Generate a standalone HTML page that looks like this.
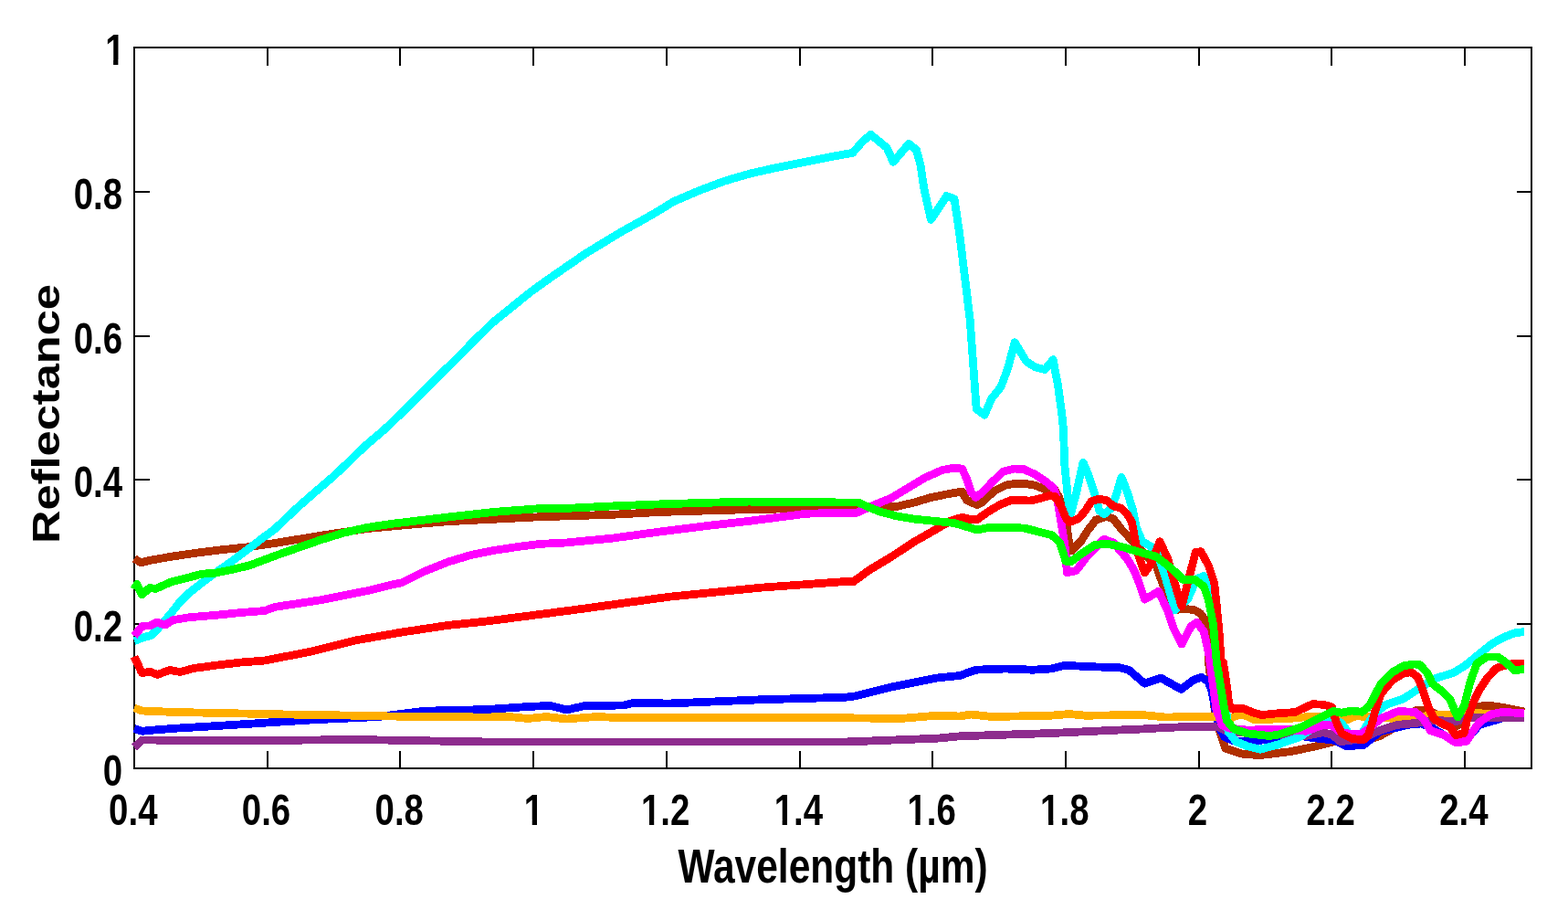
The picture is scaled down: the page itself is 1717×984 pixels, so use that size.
<!DOCTYPE html>
<html><head><meta charset="utf-8"><title>Reflectance spectra</title>
<style>html,body{margin:0;padding:0;background:#fff;}svg{display:block;}</style>
</head><body>
<svg width="1717" height="984" viewBox="0 0 1717 984">
<rect width="1717" height="984" fill="#fff"/>
<path d="M147.0 841.0V821.5M147.0 52.0V71.5M293.0 841.0V821.5M293.0 52.0V71.5M438.0 841.0V821.5M438.0 52.0V71.5M584.0 841.0V821.5M584.0 52.0V71.5M730.0 841.0V821.5M730.0 52.0V71.5M876.0 841.0V821.5M876.0 52.0V71.5M1021.0 841.0V821.5M1021.0 52.0V71.5M1167.0 841.0V821.5M1167.0 52.0V71.5M1313.0 841.0V821.5M1313.0 52.0V71.5M1458.0 841.0V821.5M1458.0 52.0V71.5M1604.0 841.0V821.5M1604.0 52.0V71.5M147.0 841.0H163.5M1677.0 841.0H1660.5M147.0 683.0H163.5M1677.0 683.0H1660.5M147.0 525.0H163.5M1677.0 525.0H1660.5M147.0 368.0H163.5M1677.0 368.0H1660.5M147.0 210.0H163.5M1677.0 210.0H1660.5M147.0 52.0H163.5M1677.0 52.0H1660.5" stroke="#000" stroke-width="2" fill="none" shape-rendering="crispEdges"/>
<rect x="147.0" y="52.0" width="1530.0" height="789.0" fill="none" stroke="#000" stroke-width="2" shape-rendering="crispEdges"/>
<g fill="none" stroke-width="8.8" stroke-linejoin="round" stroke-linecap="butt" shape-rendering="crispEdges">
<polyline stroke="#B03000" points="147.0,611.5 154.3,615.8 163.9,613.4 187.8,609.2 216.4,605.0 245.1,601.5 273.7,598.5 300.8,594.5 351.7,586.2 402.5,578.5 452.7,573.9 490.8,570.7 541.7,568.2 592.5,565.7 620.0,564.9 670.8,563.3 721.7,560.5 772.5,559.0 820.0,557.7 926.0,555.6 938.5,556.0 963.5,555.0 982.2,554.4 1001.0,550.0 1019.8,544.4 1038.5,540.6 1053.5,538.1 1058.5,547.5 1069.8,552.5 1076.0,549.4 1088.5,537.5 1101.0,531.2 1111.0,529.4 1122.0,529.4 1132.7,531.0 1145.4,536.1 1154.3,534.8 1159.4,543.7 1165.7,558.9 1168.3,578.0 1170.8,595.0 1173.4,602.9 1183.5,592.7 1191.2,580.5 1200.0,569.1 1211.5,565.3 1219.1,567.8 1228.0,579.3 1238.2,590.2 1252.0,605.0 1266.1,619.4 1272.5,637.2 1278.8,653.7 1285.2,667.7 1297.9,666.4 1308.1,667.7 1314.4,671.5 1320.0,679.1 1322.1,689.0 1323.4,725.0 1326.0,745.0 1330.0,775.0 1335.4,799.9 1341.8,819.0 1360.8,825.3 1379.9,826.6 1411.7,822.8 1437.1,817.7 1462.5,811.3 1475.2,814.5 1490.0,812.0 1510.0,806.0 1530.0,795.0 1551.2,777.0 1565.0,778.0 1580.0,785.0 1594.0,795.0 1605.0,790.0 1619.8,773.0 1632.5,772.4 1645.2,774.3 1669.1,779.0"/>
<polyline stroke="#0000FF" points="147.0,797.5 155.8,800.3 169.0,799.0 195.4,797.0 235.0,794.7 340.0,788.0 415.0,784.5 465.0,778.2 515.0,777.0 533.0,776.5 583.0,773.2 603.0,772.5 620.5,777.0 640.5,772.5 683.0,772.0 693.0,769.5 733.0,770.0 833.0,765.8 926.0,763.2 936.0,762.0 976.0,752.0 1026.0,742.0 1051.0,739.5 1068.5,733.2 1101.0,732.0 1131.0,733.2 1151.0,732.0 1166.0,728.2 1188.5,729.5 1226.0,730.8 1236.0,733.2 1253.5,748.2 1271.0,742.0 1293.5,754.5 1306.5,744.5 1315.4,741.3 1323.0,745.7 1326.8,755.9 1330.7,776.2 1334.5,795.3 1340.8,806.7 1353.5,811.8 1373.5,811.3 1399.0,807.5 1424.4,802.4 1430.0,806.6 1461.5,810.4 1474.1,816.7 1493.0,815.5 1502.5,807.9 1511.9,800.3 1543.5,793.0 1556.2,792.0 1569.0,797.0 1581.7,805.0 1594.4,812.0 1605.8,810.0 1619.8,793.4 1645.2,786.0 1669.1,785.0"/>
<polyline stroke="#FFAE00" points="147.0,775.0 155.8,778.0 192.0,779.5 315.0,782.0 390.0,783.2 452.5,784.5 533.0,785.0 558.0,784.5 578.0,786.5 598.0,784.5 620.5,787.0 653.0,784.5 683.0,785.8 783.0,785.8 926.0,785.8 986.0,786.5 1026.0,783.2 1051.0,784.0 1063.5,782.0 1086.0,784.5 1151.0,783.2 1171.0,781.5 1188.5,783.2 1251.0,782.5 1276.0,785.0 1310.0,784.6 1332.9,784.6 1348.1,785.9 1357.0,782.1 1364.6,783.4 1373.5,787.8 1411.7,786.5 1437.1,784.0 1456.1,785.9 1475.2,787.8 1485.3,783.4 1494.2,784.6 1510.0,784.6 1530.0,787.0 1550.0,786.0 1570.0,782.0 1590.0,782.0 1619.8,780.7 1669.1,784.0"/>
<polyline stroke="#8E2C8E" points="147.0,818.0 155.8,810.0 265.0,810.8 390.0,809.5 533.0,812.0 926.0,812.0 1026.0,808.2 1051.0,805.8 1151.0,802.5 1226.0,799.0 1251.0,798.0 1276.0,796.5 1300.0,795.5 1322.7,795.4 1335.4,796.1 1343.4,800.4 1360.0,802.0 1400.0,804.0 1430.0,805.4 1448.9,801.6 1458.4,804.1 1467.8,811.7 1490.0,809.0 1511.9,799.1 1530.0,793.4 1543.5,792.1 1556.2,790.8 1569.0,788.3 1594.4,789.6 1607.1,785.7 1619.8,785.7 1645.2,785.7 1669.1,785.1"/>
<polyline stroke="#00FFFF" points="147.0,701.5 159.1,697.2 165.8,695.3 171.5,689.6 178.2,682.0 187.8,670.5 197.3,658.5 206.9,649.2 221.2,637.8 235.5,627.2 254.6,613.9 273.7,599.6 286.1,590.0 300.8,579.2 326.2,555.1 340.0,543.0 365.0,521.5 380.7,506.7 400.0,488.0 421.3,469.8 440.0,452.0 462.0,430.1 482.0,410.0 502.6,390.0 520.0,372.0 540.3,352.5 560.7,336.0 581.0,319.6 601.3,305.0 621.6,291.0 642.0,277.0 662.3,264.7 682.6,252.5 702.9,241.3 720.0,231.5 738.0,220.4 765.9,208.5 793.9,198.0 821.8,189.9 849.8,183.6 877.7,178.0 905.7,172.4 933.7,167.3 944.5,155.0 953.4,147.2 967.3,158.6 971.2,161.8 978.1,177.3 995.3,157.3 1003.6,164.3 1008.0,180.8 1011.8,206.2 1019.4,240.5 1036.6,214.5 1045.0,217.7 1050.6,255.0 1062.2,350.0 1069.2,447.8 1078.1,454.2 1085.7,436.4 1095.9,423.7 1103.5,403.4 1111.2,374.8 1123.9,395.7 1134.0,402.1 1144.2,404.6 1153.1,393.6 1158.2,419.9 1162.6,451.7 1164.5,470.0 1165.7,508.1 1169.6,546.2 1172.1,564.0 1178.5,539.9 1186.1,506.2 1191.2,518.3 1198.8,541.2 1203.9,559.0 1208.9,562.8 1216.6,556.4 1221.7,543.7 1228.0,522.5 1234.4,538.6 1240.7,559.0 1244.5,578.0 1250.9,592.7 1259.8,597.8 1267.4,606.7 1275.0,628.3 1281.4,649.9 1286.5,667.7 1300.4,656.2 1310.6,633.4 1318.3,630.5 1326.0,645.0 1333.0,690.0 1338.0,728.0 1342.0,770.0 1345.0,801.0 1353.5,811.8 1366.2,816.9 1379.9,820.2 1399.0,815.1 1424.4,806.2 1443.4,792.3 1456.1,787.2 1468.8,791.0 1477.7,804.0 1490.4,804.0 1498.0,792.0 1505.4,781.0 1518.3,771.0 1536.6,765.0 1554.9,753.0 1573.2,742.0 1591.5,736.5 1603.7,729.0 1622.0,714.0 1634.1,704.4 1646.3,697.7 1658.5,692.8 1669.0,691.6"/>
<polyline stroke="#FF00FF" points="147.0,696.0 155.8,685.3 164.8,684.8 171.5,681.0 178.2,683.4 181.0,683.9 189.7,678.6 206.9,675.8 235.5,673.4 264.2,670.5 290.0,668.5 300.8,664.4 351.7,656.7 402.5,646.6 427.9,640.2 440.0,637.8 465.4,625.1 490.8,615.0 516.2,607.3 541.7,602.3 567.1,598.5 592.5,595.3 620.0,594.0 670.8,589.1 721.7,582.1 772.5,575.7 820.0,570.4 883.0,562.2 926.0,561.2 938.5,561.2 954.8,553.8 976.0,545.0 994.8,533.8 1013.5,522.5 1032.2,514.4 1044.8,512.2 1053.5,513.1 1058.5,523.8 1063.5,538.8 1068.5,544.4 1076.0,538.8 1086.0,528.1 1098.5,516.2 1111.0,513.1 1120.0,513.2 1132.7,518.9 1145.4,527.2 1154.3,534.8 1158.1,548.8 1161.9,571.7 1165.7,595.0 1167.0,605.4 1168.3,627.0 1178.5,624.5 1191.2,608.0 1209.0,590.2 1219.1,594.0 1234.4,611.8 1242.0,624.5 1247.1,637.2 1253.4,656.2 1268.7,647.3 1278.8,669.0 1285.2,688.0 1294.0,705.0 1304.2,685.5 1310.7,681.3 1318.3,691.5 1323.4,714.4 1326.8,738.1 1331.9,776.2 1338.3,794.0 1347.2,797.2 1366.2,799.1 1390.0,798.5 1411.7,798.6 1430.0,800.3 1448.9,793.4 1458.4,794.0 1466.0,800.0 1474.1,802.8 1489.9,803.5 1500.0,797.0 1511.9,786.5 1530.0,778.9 1537.2,778.8 1549.9,779.4 1558.8,787.0 1566.4,799.7 1581.7,804.8 1594.4,813.1 1605.8,811.2 1613.4,799.7 1619.8,790.8 1632.5,781.9 1645.2,779.4 1669.1,780.7"/>
<polyline stroke="#FF0000" points="147.0,718.7 155.3,736.4 164.8,735.5 172.5,738.3 185.8,733.5 197.3,735.5 211.6,731.6 235.5,728.3 264.2,725.0 290.0,723.0 340.0,713.2 390.0,700.8 440.0,692.0 490.0,684.5 533.0,680.0 633.0,667.0 733.0,653.2 833.0,643.2 926.0,636.5 934.8,636.5 951.0,624.5 976.0,609.5 1001.0,593.0 1026.0,578.8 1041.0,570.0 1053.5,566.2 1063.5,568.8 1069.8,568.8 1082.2,560.0 1094.8,552.5 1107.2,547.5 1120.0,547.5 1127.6,548.1 1139.1,545.6 1149.2,542.4 1155.6,543.7 1161.9,553.9 1167.0,566.6 1170.8,571.7 1181.0,567.8 1188.6,558.9 1195.0,548.8 1202.6,546.2 1211.5,547.5 1219.1,553.9 1228.0,556.4 1234.4,562.8 1239.4,571.7 1245.8,605.4 1253.4,627.0 1259.8,618.1 1270.0,592.7 1278.8,611.8 1285.2,634.6 1294.1,663.9 1301.7,633.4 1309.3,604.1 1315.1,603.8 1323.4,619.1 1329.7,638.1 1332.3,663.5 1334.8,689.0 1337.3,725.0 1339.6,725.4 1343.4,750.8 1345.9,771.2 1349.7,776.2 1359.9,775.0 1372.6,780.0 1381.5,782.6 1398.9,780.8 1418.0,779.6 1437.1,770.7 1449.8,771.3 1458.4,773.9 1462.8,789.0 1469.1,802.8 1480.4,808.5 1493.0,809.8 1498.0,805.4 1502.5,791.5 1505.6,778.9 1511.9,760.0 1512.2,759.3 1524.4,744.6 1536.6,737.3 1545.1,735.5 1552.4,741.0 1557.3,753.2 1564.6,775.1 1570.7,787.3 1579.3,792.2 1587.8,795.9 1594.4,804.8 1603.3,802.3 1606.1,789.8 1612.2,771.5 1619.5,755.6 1629.3,741.0 1639.0,731.2 1652.4,727.0 1669.0,726.3"/>
<polyline stroke="#00FF00" points="147.0,645.0 150.0,639.5 155.3,651.0 163.9,643.5 170.6,644.4 187.8,636.8 206.9,632.0 221.2,628.2 235.5,627.2 254.6,623.4 273.7,618.7 300.8,608.5 326.2,599.6 351.7,590.7 377.1,583.0 402.5,577.3 427.9,573.5 440.0,572.0 490.8,566.0 541.7,560.3 592.5,556.5 620.0,556.4 670.8,553.9 721.7,551.9 772.5,550.3 820.0,549.1 926.0,550.0 939.8,550.0 951.0,555.0 963.5,560.0 982.2,565.0 1001.0,568.1 1026.0,570.6 1044.8,572.5 1057.2,576.2 1069.8,580.0 1082.2,577.5 1109.8,577.5 1122.0,578.1 1151.8,585.7 1160.7,594.0 1167.0,614.3 1173.4,614.3 1183.5,606.7 1198.8,596.5 1211.5,595.2 1228.0,598.4 1247.1,604.1 1266.1,609.2 1282.6,621.9 1295.3,634.3 1308.1,634.3 1318.3,641.9 1323.4,657.2 1328.4,682.6 1332.3,725.0 1334.5,738.1 1339.6,769.9 1343.4,788.9 1351.0,797.8 1366.2,802.9 1390.0,805.5 1399.0,804.3 1424.4,796.1 1449.8,783.4 1460.0,778.3 1468.8,780.2 1480.0,778.0 1491.4,779.3 1496.5,775.5 1500.0,771.5 1512.2,748.3 1524.4,736.1 1536.6,728.8 1548.8,727.0 1554.9,727.6 1563.4,737.3 1568.3,748.3 1579.3,756.8 1587.8,765.4 1593.9,780.0 1596.3,784.9 1603.7,771.5 1609.8,747.1 1617.1,726.3 1628.0,719.0 1640.2,719.0 1648.8,725.1 1658.5,733.7 1669.0,732.4"/>
</g>
<g font-family="Liberation Sans, Arial, sans-serif" font-weight="bold" font-size="47.4" fill="#000"><g transform="translate(145.80 903.00) scale(0.81 1)"><text text-anchor="middle">0.4</text></g><g transform="translate(291.51 903.00) scale(0.81 1)"><text text-anchor="middle">0.6</text></g><g transform="translate(437.23 903.00) scale(0.81 1)"><text text-anchor="middle">0.8</text></g><g transform="translate(584.44 903.00) scale(0.81 1)"><text text-anchor="middle">1</text><rect x="-12.72" y="-5.44" width="10.60" height="6.44" fill="#fff"/><rect x="4.39" y="-5.44" width="9.74" height="6.44" fill="#fff"/></g><g transform="translate(728.66 903.00) scale(0.81 1)"><text text-anchor="middle">1.2</text><rect x="-32.48" y="-5.44" width="10.60" height="6.44" fill="#fff"/><rect x="-15.38" y="-5.44" width="9.74" height="6.44" fill="#fff"/></g><g transform="translate(874.37 903.00) scale(0.81 1)"><text text-anchor="middle">1.4</text><rect x="-32.48" y="-5.44" width="10.60" height="6.44" fill="#fff"/><rect x="-15.38" y="-5.44" width="9.74" height="6.44" fill="#fff"/></g><g transform="translate(1020.09 903.00) scale(0.81 1)"><text text-anchor="middle">1.6</text><rect x="-32.48" y="-5.44" width="10.60" height="6.44" fill="#fff"/><rect x="-15.38" y="-5.44" width="9.74" height="6.44" fill="#fff"/></g><g transform="translate(1165.80 903.00) scale(0.81 1)"><text text-anchor="middle">1.8</text><rect x="-32.48" y="-5.44" width="10.60" height="6.44" fill="#fff"/><rect x="-15.38" y="-5.44" width="9.74" height="6.44" fill="#fff"/></g><g transform="translate(1311.51 903.00) scale(0.81 1)"><text text-anchor="middle">2</text></g><g transform="translate(1457.23 903.00) scale(0.81 1)"><text text-anchor="middle">2.2</text></g><g transform="translate(1602.94 903.00) scale(0.81 1)"><text text-anchor="middle">2.4</text></g><g transform="translate(134.00 860.00) scale(0.81 1)"><text text-anchor="end">0</text></g><g transform="translate(134.00 702.20) scale(0.81 1)"><text text-anchor="end">0.2</text></g><g transform="translate(134.00 544.40) scale(0.81 1)"><text text-anchor="end">0.4</text></g><g transform="translate(134.00 386.60) scale(0.81 1)"><text text-anchor="end">0.6</text></g><g transform="translate(134.00 228.80) scale(0.81 1)"><text text-anchor="end">0.8</text></g><g transform="translate(136.50 71.00) scale(0.81 1)"><text text-anchor="end">1</text><rect x="-25.90" y="-5.44" width="10.60" height="6.44" fill="#fff"/><rect x="-8.79" y="-5.44" width="9.74" height="6.44" fill="#fff"/></g></g>
<g font-family="Liberation Sans, Arial, sans-serif" font-weight="bold" font-size="51" fill="#000">
<text transform="translate(912 966) scale(0.833 1)" text-anchor="middle">Wavelength (µm)</text>
<text transform="translate(65 453) rotate(-90) scale(1 0.8366)" text-anchor="middle" font-size="50.6">Reflectance</text>
</g>
</svg>
</body></html>
